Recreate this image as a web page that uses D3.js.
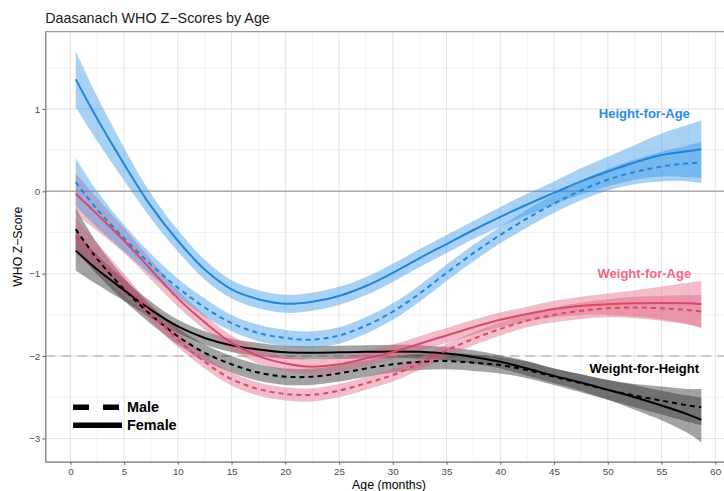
<!DOCTYPE html>
<html>
<head>
<meta charset="utf-8">
<script src="https://cdn.jsdelivr.net/npm/d3@7"></script>
<style>
  body { margin: 0; background: #fff; }
  svg { display: block; font-family: "Liberation Sans", Arial, sans-serif; }
</style>
</head>
<body>
<svg id="chart" width="724" height="491"></svg>
<script>
// Ages (months) at which the smoothed z-score curves are evaluated
const ages = [0.5, 2.5, 5, 7.5, 10, 12.5, 15, 17.5, 20, 22.5, 25, 27.5, 30, 32.5, 35, 37.5, 40, 42.5, 45, 47.5, 50, 52.5, 55, 57.5, 58.7];

// Height-for-age
const hazFemale = [1.36, 0.88, 0.33, -0.18, -0.60, -0.95, -1.19, -1.31, -1.365, -1.34, -1.27, -1.15, -0.99, -0.81, -0.64, -0.47, -0.31, -0.16, -0.02, 0.12, 0.24, 0.35, 0.44, 0.49, 0.51];
const hazMale   = [0.11, -0.22, -0.57, -0.89, -1.17, -1.41, -1.60, -1.72, -1.78, -1.80, -1.75, -1.63, -1.46, -1.24, -0.99, -0.75, -0.53, -0.33, -0.15, 0.01, 0.14, 0.235, 0.30, 0.34, 0.35];
const hazFemaleCI = [0.34, 0.27, 0.20, 0.15, 0.13, 0.12, 0.11, 0.11, 0.11, 0.11, 0.11, 0.11, 0.11, 0.11, 0.11, 0.11, 0.12, 0.13, 0.14, 0.16, 0.18, 0.21, 0.26, 0.32, 0.35];
const hazMaleCI   = [0.29, 0.22, 0.16, 0.13, 0.11, 0.11, 0.10, 0.10, 0.10, 0.10, 0.10, 0.10, 0.10, 0.10, 0.10, 0.10, 0.10, 0.11, 0.11, 0.12, 0.13, 0.15, 0.18, 0.22, 0.25];

// Weight-for-age
const wazFemale = [-0.03, -0.28, -0.60, -0.95, -1.30, -1.59, -1.84, -2.00, -2.09, -2.13, -2.10, -2.03, -1.95, -1.85, -1.75, -1.65, -1.56, -1.49, -1.43, -1.39, -1.37, -1.36, -1.355, -1.36, -1.37];
const wazMale   = [-0.55, -0.80, -1.13, -1.48, -1.80, -2.07, -2.28, -2.40, -2.46, -2.47, -2.42, -2.33, -2.23, -2.09, -1.93, -1.79, -1.67, -1.57, -1.50, -1.45, -1.42, -1.41, -1.42, -1.44, -1.46];
const wazFemaleCI = [0.25, 0.20, 0.15, 0.12, 0.10, 0.09, 0.09, 0.09, 0.09, 0.09, 0.09, 0.09, 0.09, 0.09, 0.09, 0.09, 0.09, 0.09, 0.10, 0.11, 0.13, 0.16, 0.20, 0.25, 0.28];
const wazMaleCI   = [0.22, 0.17, 0.13, 0.10, 0.09, 0.08, 0.08, 0.08, 0.08, 0.08, 0.08, 0.08, 0.08, 0.08, 0.08, 0.08, 0.08, 0.08, 0.09, 0.10, 0.11, 0.13, 0.15, 0.18, 0.20];

// Weight-for-height
const whzFemale = [-0.72, -0.95, -1.20, -1.44, -1.64, -1.78, -1.87, -1.92, -1.955, -1.96, -1.955, -1.948, -1.943, -1.948, -1.97, -2.01, -2.07, -2.15, -2.24, -2.32, -2.41, -2.50, -2.60, -2.71, -2.775];
const whzMale   = [-0.46, -0.82, -1.19, -1.50, -1.76, -1.96, -2.10, -2.20, -2.25, -2.25, -2.21, -2.15, -2.10, -2.07, -2.06, -2.08, -2.11, -2.17, -2.25, -2.33, -2.41, -2.48, -2.54, -2.60, -2.62];
const whzFemaleCI = [0.24, 0.18, 0.13, 0.10, 0.08, 0.08, 0.08, 0.08, 0.08, 0.08, 0.08, 0.08, 0.08, 0.08, 0.08, 0.08, 0.08, 0.09, 0.09, 0.10, 0.12, 0.15, 0.18, 0.23, 0.27];
const whzMaleCI   = [0.26, 0.19, 0.14, 0.11, 0.10, 0.10, 0.10, 0.10, 0.10, 0.10, 0.10, 0.10, 0.10, 0.10, 0.10, 0.10, 0.10, 0.10, 0.10, 0.11, 0.12, 0.14, 0.17, 0.20, 0.22];

// Axis ticks
const xTicks = [0, 5, 10, 15, 20, 25, 30, 35, 40, 45, 50, 55, 60];
const yTicks = [1, 0, -1, -2, -3];
const xMinor = d3.range(-2.5, 62.6, 2.5).filter(v => v % 5 !== 0);
const yMinor = [1.5, 0.5, -0.5, -1.5, -2.5];

const indicatorLabels = ["Height-for-Age", "Weight-for-Age", "Weight-for-Height"];
const sexLabels = ["Male", "Female"];

const palette = {
  haz: { line: "#1f86dc", band: "#2f93e6", text: "#2a8ce6" },
  waz: { line: "#d9486c", band: "#e0607c", text: "#ee6a85" },
  whz: { line: "#000000", band: "#333333", text: "#000000" }
};

const series = [
  { key: "whz", sex: "Male",   values: whzMale,   ci: whzMaleCI },
  { key: "whz", sex: "Female", values: whzFemale, ci: whzFemaleCI },
  { key: "waz", sex: "Male",   values: wazMale,   ci: wazMaleCI },
  { key: "waz", sex: "Female", values: wazFemale, ci: wazFemaleCI },
  { key: "haz", sex: "Male",   values: hazMale,   ci: hazMaleCI },
  { key: "haz", sex: "Female", values: hazFemale, ci: hazFemaleCI }
];

const svg = d3.select("#chart");
const panel = { left: 45.3, top: 31.7, right: 732.7, bottom: 461.7 };

const x = d3.scaleLinear().domain([-2.33, 61.62]).range([panel.left, panel.right]);
const y = d3.scaleLinear().domain([-3.282, 1.937]).range([panel.bottom, panel.top]);

const minus = d => d < 0 ? "\u2212" + Math.abs(d) : String(d);

svg.append("defs").append("clipPath").attr("id", "clip")
  .append("rect")
  .attr("x", panel.left).attr("y", panel.top)
  .attr("width", panel.right - panel.left).attr("height", panel.bottom - panel.top);

// Grid
const grid = svg.append("g");
grid.selectAll("line.xm").data(xMinor).join("line")
  .attr("x1", d => x(d)).attr("x2", d => x(d))
  .attr("y1", panel.top).attr("y2", panel.bottom)
  .attr("stroke", "#f2f2f2").attr("stroke-width", 1);
grid.selectAll("line.ym").data(yMinor).join("line")
  .attr("y1", d => y(d)).attr("y2", d => y(d))
  .attr("x1", panel.left).attr("x2", panel.right)
  .attr("stroke", "#f2f2f2").attr("stroke-width", 1);
grid.selectAll("line.xM").data(xTicks).join("line")
  .attr("x1", d => x(d)).attr("x2", d => x(d))
  .attr("y1", panel.top).attr("y2", panel.bottom)
  .attr("stroke", "#e6e6e6").attr("stroke-width", 1.1);
grid.selectAll("line.yM").data(yTicks).join("line")
  .attr("y1", d => y(d)).attr("y2", d => y(d))
  .attr("x1", panel.left).attr("x2", panel.right)
  .attr("stroke", "#e6e6e6").attr("stroke-width", 1.1);

// Reference lines: population median and the -2 SD cut-off
svg.append("line")
  .attr("x1", panel.left).attr("x2", panel.right)
  .attr("y1", y(0)).attr("y2", y(0))
  .attr("stroke", "#ababab").attr("stroke-width", 1.6);
svg.append("line")
  .attr("x1", panel.left).attr("x2", panel.right)
  .attr("y1", y(-2)).attr("y2", y(-2))
  .attr("stroke", "#bdbdbd").attr("stroke-width", 1.6)
  .attr("stroke-dasharray", "10,6");

const plot = svg.append("g").attr("clip-path", "url(#clip)");

const area = d3.area()
  .x((d, i) => x(ages[i]))
  .y0(d => y(d[0] - d[1]))
  .y1(d => y(d[0] + d[1]))
  .curve(d3.curveCatmullRom.alpha(0.5));

const line = d3.line()
  .x((d, i) => x(ages[i]))
  .y(d => y(d))
  .curve(d3.curveCatmullRom.alpha(0.5));

// Confidence bands
series.forEach(s => {
  plot.append("path")
    .datum(s.values.map((v, i) => [v, s.ci[i]]))
    .attr("d", area)
    .attr("fill", palette[s.key].band)
    .attr("fill-opacity", s.key === "whz" ? 0.45 : 0.42)
    .attr("stroke", "none");
});

// Smoothed curves
series.forEach(s => {
  plot.append("path")
    .datum(s.values)
    .attr("d", line)
    .attr("fill", "none")
    .attr("stroke", palette[s.key].line)
    .attr("stroke-width", 2)
    .attr("stroke-dasharray", s.sex === "Male" ? "5,4" : null);
});

// Panel border (top) and axis lines
svg.append("line")
  .attr("x1", panel.left).attr("x2", panel.right)
  .attr("y1", panel.top).attr("y2", panel.top)
  .attr("stroke", "#9a9a9a").attr("stroke-width", 1.2);

const yAxis = svg.append("g")
  .attr("transform", `translate(${panel.left},0)`)
  .call(d3.axisLeft(y).tickValues(yTicks).tickFormat(minus).tickSize(3).tickSizeOuter(0).tickPadding(2));
const xAxis = svg.append("g")
  .attr("transform", `translate(0,${panel.bottom})`)
  .call(d3.axisBottom(x).tickValues(xTicks).tickFormat(minus).tickSize(3).tickSizeOuter(0).tickPadding(3));

[yAxis, xAxis].forEach(a => {
  a.select(".domain").attr("stroke", "#6e6e6e").attr("stroke-width", 1.2);
  a.selectAll(".tick line").attr("stroke", "#6e6e6e").attr("stroke-width", 1.1);
  a.selectAll(".tick text")
    .attr("fill", "#4d4d4d")
    .style("font-size", "9.8px")
    .style("font-family", "'Liberation Sans', Arial, sans-serif");
});

// Titles
svg.append("text")
  .attr("x", panel.left).attr("y", 23)
  .attr("fill", "#1a1a1a")
  .style("font-size", "14.3px")
  .text("Daasanach WHO Z\u2212Scores by Age");

svg.append("text")
  .attr("x", (panel.left + panel.right) / 2).attr("y", 489)
  .attr("text-anchor", "middle")
  .attr("fill", "#000")
  .style("font-size", "12.3px")
  .text("Age (months)");

svg.append("text")
  .attr("transform", `translate(22,${(panel.top + panel.bottom) / 2}) rotate(-90)`)
  .attr("text-anchor", "middle")
  .attr("fill", "#000")
  .style("font-size", "12.3px")
  .text("WHO Z\u2212Score");

// Direct labels for each indicator
const labelSpots = [
  { key: "haz", text: indicatorLabels[0], age: 53.4, z: 0.95 },
  { key: "waz", text: indicatorLabels[1], age: 53.4, z: -1.0 },
  { key: "whz", text: indicatorLabels[2], age: 53.4, z: -2.15 }
];
svg.selectAll("text.ind").data(labelSpots).join("text")
  .attr("class", "ind")
  .attr("x", d => x(d.age)).attr("y", d => y(d.z))
  .attr("dy", "0.36em")
  .attr("text-anchor", "middle")
  .attr("fill", d => palette[d.key].text)
  .style("font-size", "13px")
  .style("font-weight", "bold")
  .text(d => d.text);

// Line-type legend
const legend = svg.append("g").attr("transform", `translate(${x(0.25)},${y(-2.62)})`);
legend.append("line")
  .attr("x1", 0).attr("x2", 47).attr("y1", 0).attr("y2", 0)
  .attr("stroke", "#000").attr("stroke-width", 5.5)
  .attr("stroke-dasharray", "16,14");
legend.append("line")
  .attr("x1", 0).attr("x2", 49).attr("y1", 18).attr("y2", 18)
  .attr("stroke", "#000").attr("stroke-width", 5.5);
legend.selectAll("text").data(sexLabels).join("text")
  .attr("x", 54).attr("y", (d, i) => i * 18)
  .attr("dy", "0.36em")
  .attr("fill", "#000")
  .style("font-size", "14.4px")
  .style("font-weight", "bold")
  .text(d => d);
</script>
</body>
</html>
